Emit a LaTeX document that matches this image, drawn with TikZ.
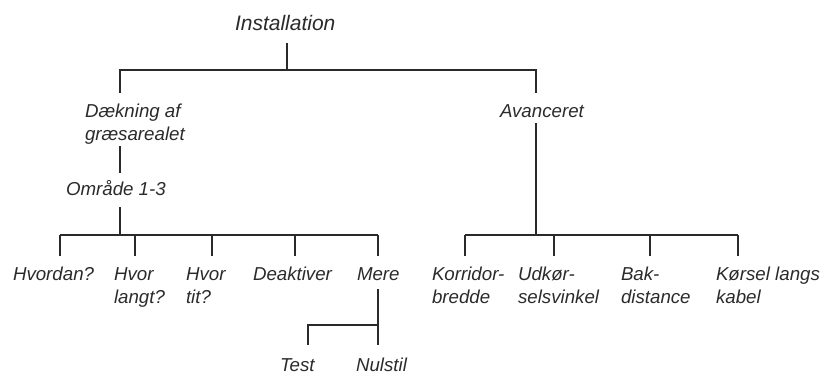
\documentclass[tikz,border=0pt]{standalone}
\usepackage{fontspec}
\setmainfont{Liberation Sans}
\begin{document}
\begin{tikzpicture}[x=1pt,y=-1pt,
  lbl/.style={anchor=base west,inner sep=0pt,outer sep=0pt,align=left,text=txtc,
    font=\fontsize{18.7}{23}\selectfont\itshape},
  ttl/.style={lbl,font=\fontsize{21}{25}\selectfont\itshape},
  con/.style={draw=linec,line width=1.7pt},
  stub/.style={draw=linec,line width=2.3pt}]
\definecolor{txtc}{HTML}{2B2B2B}
\definecolor{linec}{HTML}{2A2A2A}
\useasboundingbox (0,0) rectangle (822,375);
% nodes (multi-line nodes are placed by the baseline of their last line)
\node[ttl] (inst) at (235,30) {Installation};
\node[lbl] (daek) at (85,140) {Dækning af\\græsarealet};
\node[lbl] (omr) at (66,195) {Område 1-3};
\node[lbl] (avan) at (500,117) {Avanceret};
\node[lbl] (hvordan) at (13,280) {Hvordan?};
\node[lbl] (langt) at (114,303) {Hvor\\langt?};
\node[lbl] (tit) at (186,303) {Hvor\\tit?};
\node[lbl] (deak) at (253,280) {Deaktiver};
\node[lbl] (mere) at (357,280) {Mere};
\node[lbl] (test) at (280,371) {Test};
\node[lbl] (nul) at (356,371) {Nulstil};
\node[lbl] (korr) at (432,303) {Korridor-\\bredde};
\node[lbl] (udk) at (518,303) {Udkør-\\selsvinkel};
\node[lbl] (bak) at (621,303) {Bak-\\distance};
\node[lbl] (kors) at (716,303) {Kørsel langs\\kabel};
% coordinates
\coordinate (i0) at (287,43);
\coordinate (i1) at (287,70);
\coordinate (dL) at (120,93);
\coordinate (aR) at (536,93);
\coordinate (d0) at (120,146);
\coordinate (d1) at (120,173);
\coordinate (o0) at (120,207);
\coordinate (o1) at (120,235);
\coordinate (s1) at (60,256);
\coordinate (s2) at (135,256);
\coordinate (s3) at (212,256);
\coordinate (s4) at (295,256);
\coordinate (s5) at (378,256);
\coordinate (m0) at (378,289);
\coordinate (m1) at (378,345);
\coordinate (t1) at (308,345);
\coordinate (a0) at (536,123);
\coordinate (a1) at (536,235);
\coordinate (r1) at (465,256);
\coordinate (r2) at (554,256);
\coordinate (r3) at (650,256);
\coordinate (r4) at (738,256);
% connectors
\draw[con] (i0) -- (i1);
\draw[con] (dL) |- (i1) -| (aR);
\draw[con] (d0) -- (d1);
\draw[con] (o0) -- (o1);
\draw[con] (s1 |- o1) -- (s5 |- o1);
\draw[stub] (s1 |- o1) -- (s1);
\draw[con] (s2 |- o1) -- (s2);
\draw[con] (s3 |- o1) -- (s3);
\draw[con] (s4 |- o1) -- (s4);
\draw[stub] (s5 |- o1) -- (s5);
\draw[con] (m0) -- (m1);
\draw[con] (t1) |- (m1 |- 0,325);
\draw[con] (a0) -- (a1);
\draw[con] (r1 |- a1) -- (r4 |- a1);
\draw[stub] (r1 |- a1) -- (r1);
\draw[con] (r2 |- a1) -- (r2);
\draw[con] (r3 |- a1) -- (r3);
\draw[stub] (r4 |- a1) -- (r4);
\end{tikzpicture}
\end{document}
